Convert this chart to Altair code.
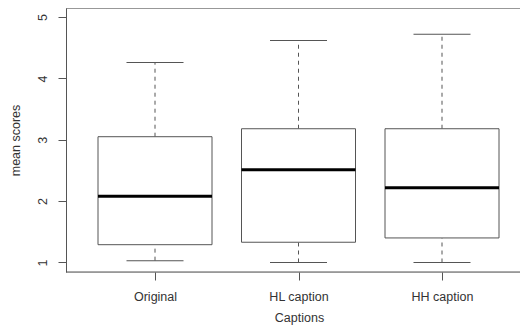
import altair as alt
import pandas as pd

groups = ["Original", "HL caption", "HH caption"]
lower_whisker = [1.03, 1.00, 1.00]
q1 = [1.29, 1.33, 1.40]
median = [2.08, 2.51, 2.22]
q3 = [3.05, 3.18, 3.18]
upper_whisker = [4.26, 4.62, 4.72]
y_ticks = [1, 2, 3, 4, 5]

df = pd.DataFrame({
    "group": groups, "lo": lower_whisker, "q1": q1, "med": median,
    "q3": q3, "hi": upper_whisker,
})

LINE = "#555555"
TEXT = "#333333"
FONT = "Liberation Sans"
W, H = 454, 264

x = alt.X("group:N", sort=groups,
          scale=alt.Scale(type="point", range=[89, 376], padding=0),
          axis=alt.Axis(title="Captions", domain=False, ticks=True, tickSize=8,
                        tickColor=LINE, labelAngle=0, labelBaseline="alphabetic",
                        labelPadding=20, labelFontSize=12.5, labelColor=TEXT,
                        labelFont=FONT, titleFont=FONT, titleFontSize=12.5,
                        titleFontWeight="normal", titleColor=TEXT,
                        titleX=233, titleY=49, titleBaseline="alphabetic",
                        titleAnchor="start", titleAlign="center", grid=False))
yscale = alt.Scale(domain=[0.845, 5.148], nice=False, zero=False)
yaxis = alt.Axis(title="mean scores", values=y_ticks, domain=True, domainColor=LINE,
                 tickSize=8, tickColor=LINE, labelAngle=270, labelAlign="center",
                 labelBaseline="alphabetic", labelPadding=11.5, labelFontSize=12.5,
                 labelColor=TEXT, labelFont=FONT, titleFont=FONT, titleFontSize=12.5,
                 titleFontWeight="normal", titleColor=TEXT, titleAngle=270,
                 titleX=-51, titleY=132, titleBaseline="middle", titleAlign="center",
                 grid=False)

base = alt.Chart(df)

wh_up = base.mark_rule(color=LINE, strokeWidth=1, strokeDash=[4, 4]).encode(
    x=x, y=alt.Y("q3:Q", scale=yscale, axis=yaxis), y2="hi:Q")
wh_lo = base.mark_rule(color=LINE, strokeWidth=1, strokeDash=[4, 4]).encode(
    x=x, y=alt.Y("lo:Q", scale=yscale, axis=yaxis), y2="q1:Q")
cap_up = base.mark_tick(color=LINE, size=57, thickness=1, opacity=1).encode(
    x=x, y=alt.Y("hi:Q", scale=yscale, axis=yaxis))
cap_lo = base.mark_tick(color=LINE, size=57, thickness=1, opacity=1).encode(
    x=x, y=alt.Y("lo:Q", scale=yscale, axis=yaxis))
box = base.mark_bar(size=114, fill="white", stroke=LINE, strokeWidth=1).encode(
    x=x, y=alt.Y("q1:Q", scale=yscale, axis=yaxis), y2="q3:Q")
med = base.mark_tick(color="black", size=114, thickness=3, opacity=1).encode(
    x=x, y=alt.Y("med:Q", scale=yscale, axis=yaxis))

frame_top = alt.Chart(pd.DataFrame({"a": [0]})).mark_rule(color=LINE, strokeWidth=1).encode(
    x=alt.value(0), x2=alt.value(W), y=alt.value(0))
frame_bot = alt.Chart(pd.DataFrame({"a": [0]})).mark_rule(color=LINE, strokeWidth=1).encode(
    x=alt.value(0), x2=alt.value(W), y=alt.value(H))

chart = alt.layer(wh_up, wh_lo, cap_up, cap_lo, box, med, frame_top, frame_bot).properties(
    width=W, height=H,
    padding={"left": 58, "top": 0, "right": 0, "bottom": 53},
    autosize=alt.AutoSizeParams(type="none"),
).configure_view(stroke=None).configure(background="white")

chart.save("out.html", embed_options={"renderer": "svg", "actions": False})
